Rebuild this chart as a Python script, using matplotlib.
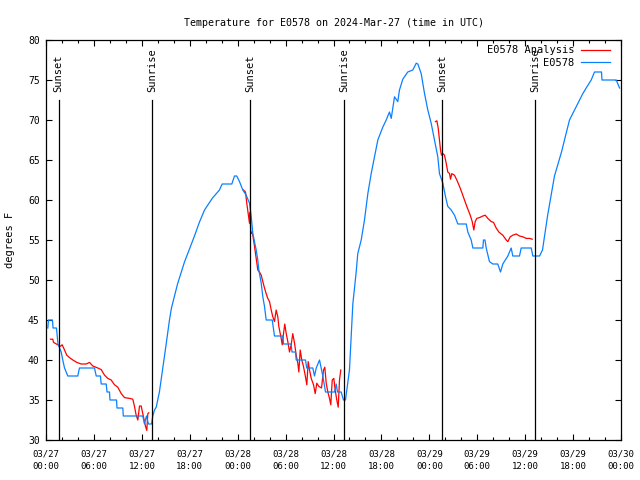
import numpy as np
import pandas as pd
import matplotlib
matplotlib.use("Agg")
import matplotlib.pyplot as plt
import matplotlib.dates as mdates

# hours after 2024-03-27 00:00 UTC, temperatures in F
obs_hours = [0.23, 0.31, 0.81, 0.88, 1.31, 1.50, 1.90, 2.10, 2.32, 2.73, 3.98, 4.19,
             6.07, 6.29, 6.82, 6.91, 7.54, 7.64, 7.95, 8.01, 8.83, 8.89, 9.62, 9.68,
             12.12, 12.33, 12.58, 12.83, 13.21, 13.37, 13.59, 13.80, 14.20, 14.63,
             15.05, 15.46, 15.71, 16.47, 17.34, 18.59, 19.22, 19.85, 20.85,
             21.72, 22.06, 23.27, 23.60, 23.89, 24.23, 24.64, 25.07, 25.48, 25.70,
             25.90, 26.32, 26.52, 26.65, 26.95, 27.15, 27.36, 27.57, 28.33, 28.61,
             29.65, 29.74, 30.70, 30.80, 31.24, 31.33, 32.49, 32.65, 33.41, 33.62,
             33.84, 34.25, 34.66, 35.00, 36.13, 36.34, 36.50, 36.96, 37.25, 37.50,
             38.00, 38.42, 38.84, 39.04, 39.47, 39.88, 40.30, 40.72, 41.13, 41.55,
             42.17, 42.60, 43.01, 43.23, 43.64, 44.05, 44.26, 44.68, 45.30, 45.93,
             46.36, 46.56, 46.98, 47.40, 47.81, 48.23, 48.65, 49.06, 49.27, 49.69,
             50.03, 50.31, 50.74, 51.15, 51.57, 52.62, 52.82, 53.24, 53.45, 54.70,
             54.78, 54.97, 55.12, 55.53, 55.95, 56.57, 56.91, 57.20, 57.83, 58.25,
             58.45, 59.29, 59.50, 60.76, 60.96, 61.80, 62.17, 62.80, 63.67, 64.55,
             65.55, 66.18, 66.80, 67.22, 67.64, 68.27, 68.68, 69.56, 69.62, 71.40,
             71.73, 71.82]
obs_temp = [44, 45, 45, 44, 44, 42, 41, 40, 39, 38, 38, 39,
            39, 38, 38, 37, 37, 36, 36, 35, 35, 34, 34, 33,
            33, 32, 33, 32, 32, 33, 33.75, 34.1, 36, 39,
            42, 45, 46.5, 49.5, 52.25, 55.5, 57.25, 58.75, 60.25,
            61.25, 62, 62, 63, 63, 62.3, 61.25, 60.6, 59.6, 57.9,
            55.8, 53.75, 52.5, 51.25, 49.6, 47.9, 46.7, 45, 45, 43,
            43, 42, 42, 41, 41, 40, 40, 39, 39, 38,
            39, 40, 38, 36, 36, 37, 36, 36, 35, 35,
            38.75, 47, 51, 53.3, 55, 57.5, 60.8, 63.3, 65.4, 67.5,
            69.1, 70, 71, 70.2, 72.9, 72.3, 73.75, 75.1, 76, 76.25,
            77.1, 77, 75.8, 73.3, 71.25, 69.6, 67.5, 65.4, 63.3, 62.1,
            60.4, 59.2, 58.75, 58.1, 57, 57, 56, 55, 54, 54,
            55, 55, 54, 52.3, 52, 52, 51, 52, 53, 54,
            53, 53, 54, 54, 53, 53, 53.75, 58, 63, 66,
            70, 71.25, 72.5, 73.3, 74, 75, 76, 76, 75, 75,
            74.2, 74]

ana1_hours = [0.56, 0.85, 0.94, 1.48, 1.78, 2.03, 2.32, 2.60, 2.94, 3.36, 3.86, 4.41,
              5.03, 5.45, 5.86, 6.49, 6.91, 7.33, 7.74, 8.16, 8.58, 8.99, 9.42, 9.83,
              10.46, 10.87, 11.08, 11.29, 11.50, 11.71, 11.92, 12.12, 12.46, 12.62,
              12.75, 12.87]
ana1_temp = [42.6, 42.6, 42.2, 41.9, 41.7, 41.9, 41.25, 40.6, 40.3, 40, 39.7, 39.5,
             39.5, 39.7, 39.25, 39, 38.8, 38.1, 37.7, 37.5, 36.9, 36.6, 35.8, 35.3,
             35.2, 35.1, 34.2, 33.1, 32.5, 34.25, 34.25, 33.3, 31.7, 31.2,
             33.3, 33.4]

ana2_hours = [24.73, 24.98, 25.14, 25.48, 25.57, 25.64, 25.77, 25.90, 26.11, 26.32,
              26.52, 26.73, 26.95, 27.15, 27.36, 27.57, 27.77, 27.99, 28.20, 28.40,
              28.61, 28.82, 29.03, 29.15, 29.45, 29.58, 29.74, 29.90, 30.08, 30.28,
              30.49, 30.70, 30.90, 31.12, 31.33, 31.53, 31.66, 31.83, 32.03, 32.24,
              32.49, 32.66, 32.83, 33.00, 33.21, 33.50, 33.71, 33.91, 34.16, 34.50,
              34.75, 34.91, 35.09, 35.29, 35.50, 35.66, 35.84, 36.04, 36.21, 36.41,
              36.59, 36.75, 36.91]
ana2_temp = [61.25, 61, 59.6, 57.1, 58.5, 55.8, 56, 55.6, 54.2, 52.7,
             51.25, 51, 50.6, 49.8, 49, 48.3, 47.7, 47.3, 46.25, 45.4,
             44.8, 46.25, 45.4, 44.2, 42.7, 41.9, 43.3, 44.5, 43.3, 42.3,
             41, 41.9, 43.3, 42.1, 40.6, 39.6, 38.5, 41.25, 40, 39.2,
             37.9, 36.9, 39.8, 38.75, 37.7, 36.9, 35.8, 37.1, 36.7, 36.5,
             38.75, 39.1, 37.1, 36, 35.2, 34.4, 37.5, 37.7, 36.25, 35,
             34.1, 37.5, 38.75]

ana3_hours = [48.77, 48.94, 49.11, 49.27, 49.40, 49.52, 49.69, 49.90, 50.11, 50.31,
              50.53, 50.65, 50.81, 51.15, 51.44, 51.78, 52.12, 52.40, 52.69, 53.12,
              53.37, 53.57, 53.74, 53.94, 54.28, 54.70, 55.00, 55.32, 55.75, 56.04,
              56.37, 56.70, 57.20, 57.63, 57.83, 58.13, 58.45, 58.88, 59.29, 59.70,
              60.13, 60.54, 60.88]
ana3_temp = [69.8, 69.9, 69, 67.5, 66.25, 65.6, 65.8, 65.6, 64.6, 63.5,
             63.3, 62.6, 63.3, 63.1, 62.5, 61.7, 60.8, 60, 59.2, 58.1,
             57.3, 56.25, 57.3, 57.7, 57.8, 58, 58.1, 57.7, 57.3, 57.2,
             56.5, 56, 55.6, 55, 54.8, 55.4, 55.6, 55.75, 55.5, 55.4,
             55.2, 55.2, 55.1]

sun_hours = [1.57, 13.33, 25.60, 37.35, 49.60, 61.24]
sun_labels = ["Sunset", "Sunrise", "Sunset", "Sunrise", "Sunset", "Sunrise"]

start = pd.Timestamp("2024-03-27 00:00")


def to_time(hours):
    return start + pd.to_timedelta(np.array(hours), unit="h")


plt.rcParams['font.family'] = ['DejaVu Sans Mono']
plt.rcParams['font.size'] = 7.5

fig = plt.figure(figsize=(6.4, 4.8), dpi=100)
ax = fig.add_axes([46 / 640, 40 / 480, 575 / 640, 400 / 480])

red = '#ff0000'
blue = '#0a80ff'
ax.plot(to_time(ana1_hours), ana1_temp, color=red, lw=0.9, label="E0578 Analysis")
ax.plot(to_time(ana2_hours), ana2_temp, color=red, lw=0.9)
ax.plot(to_time(ana3_hours), ana3_temp, color=red, lw=0.9)
ax.plot(to_time(obs_hours), obs_temp, color=blue, lw=0.9, label="E0578")

for h, lab in zip(sun_hours, sun_labels):
    t = to_time([h])[0]
    ax.axvline(t, ymin=0, ymax=0.85, color='black', lw=0.9)
    ax.text(t, 73.5, lab, rotation=90, ha='center', va='bottom', fontsize=7.5)

ax.set_xlim(start, start + pd.Timedelta(hours=72))
ax.set_ylim(30, 80)
ax.set_yticks(range(30, 81, 5))
ax.xaxis.set_major_locator(mdates.HourLocator(byhour=[0, 6, 12, 18]))
ax.xaxis.set_minor_locator(mdates.HourLocator(interval=2))
ax.xaxis.set_major_formatter(mdates.DateFormatter('%m/%d\n%H:%M'))
ax.tick_params(which='both', direction='in', top=True, right=True, width=0.8)
ax.tick_params(which='major', length=4)
ax.tick_params(which='minor', length=2.5)
ax.tick_params(axis='x', which='major', labelsize=6.5, pad=7)
ax.tick_params(axis='y', labelsize=7, pad=4.5)
for lbl in ax.get_xticklabels():
    lbl.set_linespacing(1.5)
for s in ax.spines.values():
    s.set_linewidth(0.9)

ax.set_ylabel("degrees F", labelpad=9)
ax.set_title("Temperature for E0578 on 2024-Mar-27 (time in UTC)", pad=10, fontsize=7.2)
ax.legend(loc='upper right', bbox_to_anchor=(0.988, 0.997), frameon=False,
          markerfirst=False, handlelength=2.8, borderaxespad=0, labelspacing=0.25,
          handletextpad=0.6, fontsize=7.5)

fig.savefig("out.png", dpi=100)
